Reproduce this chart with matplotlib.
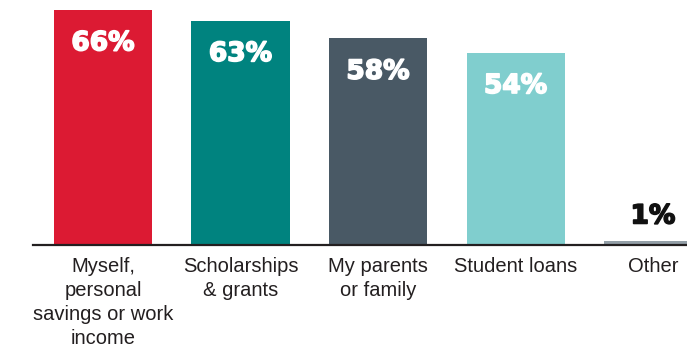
import matplotlib.pyplot as plt
import matplotlib.patheffects as pe

# Where the money for school comes from
categories = ["Myself,\npersonal\nsavings or work\nincome",
              "Scholarships\n& grants",
              "My parents\nor family",
              "Student loans",
              "Other"]
shares = [66, 63, 58, 54, 1]
value_labels = ["66%", "63%", "58%", "54%", "1%"]
colors = ["#DC1A33", "#00837F", "#495965", "#80CECE", "#939FA7"]

fig = plt.figure(figsize=(6.87, 3.49), dpi=100)
ax = fig.add_axes([33 / 687, 104 / 349, 1 - 33 / 687, 245 / 349])

x = range(len(categories))
bars = ax.bar(x, shares, width=0.713, color=colors, zorder=2)

ax.set_xlim(-0.509, 4.247)
ax.set_ylim(0, 68.8)

# big bars get the value inside, the tiny one gets it on top
for bar, val, lab in zip(bars, shares, value_labels):
    cx = bar.get_x() + bar.get_width() / 2
    if val > 10:
        offset, col = -24, "white"
    else:
        offset, col = 18, "#111111"
    ax.annotate(lab, (cx, val), xytext=(0, offset), textcoords="offset points",
                ha="center", va="center", color=col,
                fontsize=19, fontweight="heavy", family="DejaVu Sans",
                path_effects=[pe.withStroke(linewidth=1.2, foreground=col)])

ax.set_xticks(list(x))
ax.set_xticklabels(categories, fontsize=14.5, family="Liberation Sans",
                   color="#231F20", linespacing=1.32, va="top")
ax.tick_params(axis="x", length=0, pad=9)
ax.set_yticks([])

for side in ["top", "right", "left"]:
    ax.spines[side].set_visible(False)
ax.spines["bottom"].set_color("#231F20")
ax.spines["bottom"].set_linewidth(1.6)
ax.spines["bottom"].set_zorder(3)

fig.savefig("out.png", dpi=100)
